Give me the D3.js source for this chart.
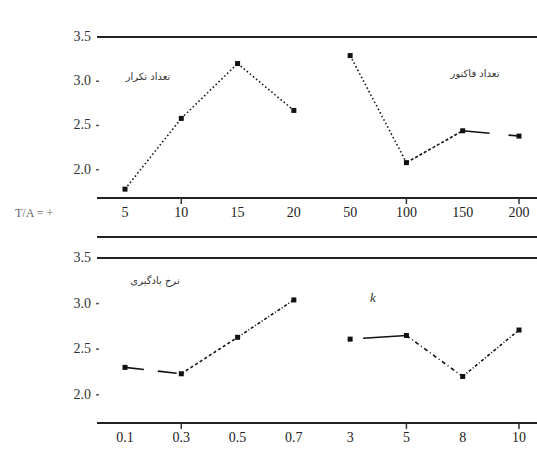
<!DOCTYPE html>
<html>
<head>
<meta charset="utf-8">
<script src="https://cdn.jsdelivr.net/npm/d3@7"></script>
<style>
  body { margin: 0; background: #fff; }
</style>
</head>
<body>
<script>
var width = 537;
var height = 450;

// data
var topCats = ["5", "10", "15", "20", "50", "100", "150", "200"];
var iterVals = [1.78, 2.58, 3.2, 2.67];
var factorVals = [3.29, 2.08, 2.44, 2.38];

var bottomCats = ["0.1", "0.3", "0.5", "0.7", "3", "5", "8", "10"];
var rateVals = [2.3, 2.23, 2.63, 3.04];
var kVals = [2.61, 2.65, 2.2, 2.71];

var yTicks = [2.0, 2.5, 3.0, 3.5];
var groupNames = ["تعداد تکرار", "تعداد فاکتور", "نرخ یادگیری", "k"];
var yLabel = "T/A = +";

var svg = d3.select("body")
  .append("svg")
  .attr("width", width)
  .attr("height", height);

// dash pattern per segment
var dashTopLeft = ["1.5,2.5", "1.5,2.5", "1.5,2.5"];
var dashTopRight = ["1.5,2.5", "3,2", "27,19"];
var dashBotLeft = ["19,14", "3,2.5", "3,2,1,2"];
var dashBotRight = ["0,13,45", "4,3,1,3", "3,2,1,2"];

function drawPanel(cats, leftVals, rightVals, yTop, yBottom, yMin, dashL, dashR, labels) {
  var x = d3.scalePoint()
    .domain(cats)
    .range([125, 519]);

  var y = d3.scaleLinear()
    .domain([yMin, 3.5])
    .range([yBottom, yTop]);

  var g = svg.append("g");

  // top and bottom rules
  g.append("line")
    .attr("x1", 97).attr("x2", width)
    .attr("y1", y(3.5)).attr("y2", y(3.5))
    .attr("stroke", "#222").attr("stroke-width", 2);
  g.append("line")
    .attr("x1", 97).attr("x2", width)
    .attr("y1", yBottom).attr("y2", yBottom)
    .attr("stroke", "#222").attr("stroke-width", 2);

  // y ticks
  yTicks.forEach(function(t) {
    g.append("text")
      .attr("x", 91)
      .attr("y", y(t) + 4)
      .attr("text-anchor", "end")
      .attr("font-family", "Liberation Serif, serif")
      .attr("font-size", "14px")
      .attr("fill", "#333")
      .text(d3.format(".1f")(t));
    if (t < 3.5) {
      g.append("line")
        .attr("x1", 96).attr("x2", 99)
        .attr("y1", y(t)).attr("y2", y(t))
        .attr("stroke", "#555").attr("stroke-width", 1.5);
    }
  });

  // x ticks
  cats.forEach(function(c, i) {
    g.append("text")
      .attr("x", x(c))
      .attr("y", yBottom + 19)
      .attr("text-anchor", "middle")
      .attr("font-family", "Liberation Serif, serif")
      .attr("font-size", "14px")
      .attr("fill", "#222")
      .text(c);
    if (i === 1 || i === 5 || i === 7) {
      g.append("line")
        .attr("x1", x(c)).attr("x2", x(c))
        .attr("y1", yBottom).attr("y2", yBottom + 6)
        .attr("stroke", "#333").attr("stroke-width", 1.5);
    }
  });

  // lines and points for both groups
  [[cats.slice(0, 4), leftVals, dashL], [cats.slice(4), rightVals, dashR]].forEach(function(grp) {
    var cs = grp[0], vs = grp[1], ds = grp[2];
    for (var i = 0; i < vs.length - 1; i++) {
      g.append("line")
        .attr("x1", x(cs[i])).attr("y1", y(vs[i]))
        .attr("x2", x(cs[i + 1])).attr("y2", y(vs[i + 1]))
        .attr("stroke", "#111")
        .attr("stroke-width", 1.6)
        .attr("stroke-dasharray", ds[i]);
    }
    g.selectAll(null)
      .data(vs)
      .enter()
      .append("rect")
      .attr("x", function(d, i) { return x(cs[i]) - 2.5; })
      .attr("y", function(d) { return y(d) - 2.5; })
      .attr("width", 5)
      .attr("height", 5)
      .attr("fill", "#111");
  });

  // group names
  g.append("text")
    .attr("x", labels[0][1]).attr("y", labels[0][2])
    .attr("text-anchor", "middle")
    .attr("font-family", "DejaVu Sans, sans-serif")
    .attr("font-size", "10px")
    .attr("fill", "#333")
    .text(labels[0][0]);
  g.append("text")
    .attr("x", labels[1][1]).attr("y", labels[1][2])
    .attr("text-anchor", "middle")
    .attr("font-family", labels[1][0] === "k" ? "Liberation Serif, serif" : "DejaVu Sans, sans-serif")
    .attr("font-style", labels[1][0] === "k" ? "italic" : "normal")
    .attr("font-size", labels[1][0] === "k" ? "13px" : "10px")
    .attr("fill", "#333")
    .text(labels[1][0]);
}

drawPanel(topCats, iterVals, factorVals, 37, 198, 1.68, dashTopLeft, dashTopRight,
  [[groupNames[0], 148, 80], [groupNames[1], 475, 77]]);

drawPanel(bottomCats, rateVals, kVals, 258, 423, 1.69, dashBotLeft, dashBotRight,
  [[groupNames[2], 155, 284], [groupNames[3], 373, 302]]);

// separator under the top panel's labels
svg.append("line")
  .attr("x1", 97).attr("x2", width)
  .attr("y1", 237).attr("y2", 237)
  .attr("stroke", "#222").attr("stroke-width", 2);

// y label
svg.append("text")
  .attr("x", 15)
  .attr("y", 217)
  .attr("font-family", "Liberation Serif, serif")
  .attr("font-size", "12px")
  .attr("fill", "#666")
  .text(yLabel);
</script>
</body>
</html>
